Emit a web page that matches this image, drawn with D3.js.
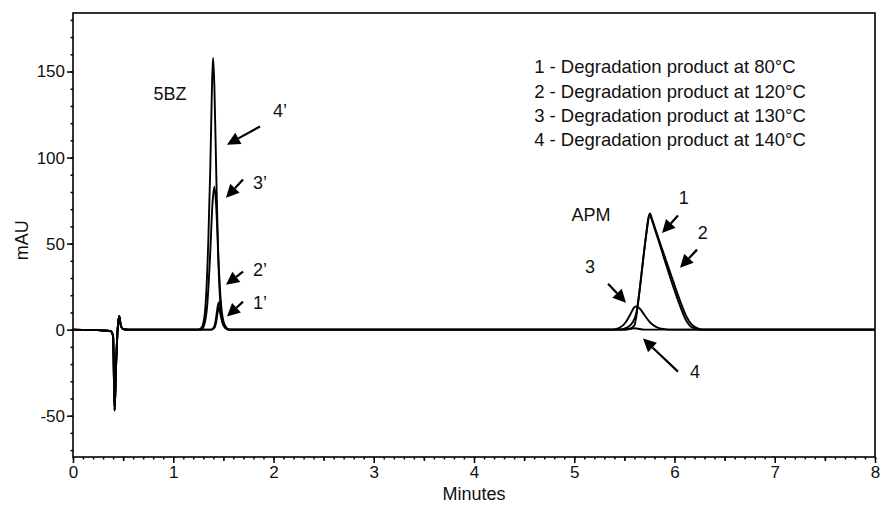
<!DOCTYPE html>
<html>
<head>
<meta charset="utf-8">
<style>
    body { margin: 0; background: #fff; }
    svg { font-family: 'Liberation Sans', Arial, Helvetica, sans-serif; }
    .axis .domain { display: none; }
    .axis line { stroke: #000; stroke-width: 1.5; }
    .axis text { font-size: 17px; fill: #111; }
    .trace { fill: none; stroke: #000; stroke-width: 1.9; stroke-linejoin: round; }
    .note { font-size: 18px; fill: #111; }
    .legend { font-size: 18.5px; fill: #111; }
    .axis-label { font-size: 18px; fill: #111; }
</style>
</head>
<body>
<svg width="881" height="506"></svg>

<script src="https://cdnjs.cloudflare.com/ajax/libs/d3/7.8.5/d3.min.js"></script>
<script>
    // [minutes, mAU]
    let injection = [[0, 0], [0.30, -0.5], [0.38, -1], [0.40, -4], [0.415, -47], [0.43, -20],
        [0.445, 0], [0.46, 8], [0.475, 3], [0.50, 0.3], [0.55, 0]];

    let bz80 = [[1.38, 0], [1.41, 1], [1.43, 5], [1.445, 11], [1.455, 13], [1.47, 9], [1.49, 4], [1.52, 1], [1.56, 0]];
    let bz120 = [[1.38, 0], [1.41, 2], [1.43, 8], [1.445, 14], [1.458, 16], [1.475, 11], [1.495, 5], [1.52, 1.5], [1.56, 0]];
    let bz130 = [[1.28, 0], [1.31, 3], [1.34, 15], [1.37, 46], [1.39, 72], [1.41, 83], [1.43, 70], [1.45, 42],
        [1.47, 20], [1.49, 8], [1.52, 2], [1.56, 0]];
    let bz140 = [[1.25, 0], [1.28, 1], [1.31, 7], [1.33, 22], [1.35, 52], [1.37, 95], [1.385, 138], [1.397, 158],
        [1.41, 142], [1.43, 88], [1.45, 40], [1.47, 15], [1.49, 5], [1.52, 1], [1.56, 0]];

    let apm80 = [[5.45, 0], [5.55, 0.5], [5.60, 2.5], [5.62, 8], [5.64, 17], [5.67, 32], [5.70, 47], [5.73, 60],
        [5.75, 67], [5.77, 64.5], [5.80, 59], [5.84, 52], [5.88, 44.5], [5.92, 37], [5.97, 28], [6.02, 19.5],
        [6.07, 11.5], [6.11, 6], [6.15, 2.5], [6.20, 0.7], [6.25, 0]];
    let apm120 = [[5.45, 0], [5.52, 1], [5.58, 4], [5.62, 10], [5.65, 22], [5.68, 37], [5.71, 52], [5.74, 65],
        [5.755, 67.5], [5.78, 63.5], [5.82, 56.5], [5.87, 48], [5.92, 39.5], [5.97, 31], [6.02, 22.5], [6.07, 14.5],
        [6.12, 7.5], [6.17, 3], [6.22, 1], [6.28, 0]];
    let apm130 = [[5.38, 0], [5.45, 1], [5.51, 4], [5.56, 9], [5.60, 13], [5.62, 13.5], [5.65, 12.5], [5.70, 8.5],
        [5.76, 4], [5.82, 1.5], [5.90, 0.3], [5.98, 0]];
    let apm140 = [[5.50, 0], [5.60, 0.8], [5.70, 0]];

    let runEnd = [[8, 0]];

    let legendLines = [
        "1 - Degradation product at 80°C",
        "2 - Degradation product at 120°C",
        "3 - Degradation product at 130°C",
        "4 - Degradation product at 140°C"];

    let xTicks = [0, 1, 2, 3, 4, 5, 6, 7, 8];
    let yTicks = [-50, 0, 50, 100, 150];

    // labels and arrows, in data units
    let notes = [
        { text: "5BZ", t: 0.968, v: 137 },
        { text: "4’", t: 2.065, v: 127, from: [1.865, 118], to: [1.536, 107.5] },
        { text: "3’", t: 1.865, v: 85.4, from: [1.696, 87.2], to: [1.526, 76.7] },
        { text: "2’", t: 1.865, v: 34.9, from: [1.696, 33.7], to: [1.526, 26.1] },
        { text: "1’", t: 1.865, v: 15.7, from: [1.696, 16.3], to: [1.536, 7.6] },
        { text: "APM", t: 5.167, v: 66.8 },
        { text: "1", t: 6.092, v: 76.7, from: [6.035, 66.3], to: [5.876, 56.1] },
        { text: "2", t: 6.282, v: 56.4, from: [6.225, 46.5], to: [6.055, 36.0] },
        { text: "3", t: 5.157, v: 36.6, from: [5.337, 26.7], to: [5.516, 15.7] },
        { text: "4", t: 6.204, v: -24.4, from: [6.035, -24.4], to: [5.686, -5.2] }
    ];

    let traces = [
        injection.concat(bz80, apm80, runEnd),
        injection.concat(bz120, apm120, runEnd),
        injection.concat(bz130, apm130, runEnd),
        injection.concat(bz140, apm140, runEnd)
    ];

    let svg = d3.select("svg");

    let x = d3.scaleLinear().domain([0, 8]).range([73, 875]);
    let y = d3.scaleLinear().domain([-74, 184]).range([457, 13]);

    // x ticks: minor every 0.1, half minutes, whole minutes
    svg.append("g").attr("class", "x axis")
        .attr("transform", `translate(0, ${y.range()[0]})`)
        .call(d3.axisBottom(x).tickValues(d3.range(0, 81).map(i => i / 10)).tickSize(2.5).tickFormat(""));
    svg.append("g").attr("class", "x axis")
        .attr("transform", `translate(0, ${y.range()[0]})`)
        .call(d3.axisBottom(x).tickValues(d3.range(0, 8).map(i => i + 0.5)).tickSize(4).tickFormat(""));
    svg.append("g").attr("class", "x axis")
        .attr("transform", `translate(0, ${y.range()[0]})`)
        .call(d3.axisBottom(x).tickValues(xTicks).tickSize(6).tickPadding(3).tickFormat(d => String(d)));

    svg.append("g").attr("class", "y axis")
        .attr("transform", `translate(${x.range()[0]}, 0)`)
        .call(d3.axisLeft(y).tickValues(d3.range(-70, 181, 10)).tickSize(2.5).tickFormat(""));
    svg.append("g").attr("class", "y axis")
        .attr("transform", `translate(${x.range()[0]}, 0)`)
        .call(d3.axisLeft(y).tickValues(yTicks).tickSize(6).tickPadding(2).tickFormat(d => String(d)));

    // frame
    svg.append("rect")
        .attr("x", x(0)).attr("y", y.range()[1])
        .attr("width", x(8) - x(0)).attr("height", y.range()[0] - y.range()[1])
        .attr("fill", "none").attr("stroke", "#000").attr("stroke-width", 1.6);

    let line = d3.line()
        .x(d => x(d[0]))
        .y(d => y(d[1]))
        .curve(d3.curveMonotoneX);

    svg.append("g")
        .selectAll("path")
        .data(traces)
        .join("path")
        .attr("class", "trace")
        .attr("d", line);

    // arrows
    let arrows = notes.filter(d => d.from);
    let ag = svg.append("g");
    arrows.forEach(d => {
        let x0 = x(d.from[0]), y0 = y(d.from[1]);
        let x1 = x(d.to[0]), y1 = y(d.to[1]);
        let ang = Math.atan2(y1 - y0, x1 - x0);
        let len = 13, half = 6.5;
        let bx = x1 - len * Math.cos(ang), by = y1 - len * Math.sin(ang);
        ag.append("line")
            .attr("x1", x0).attr("y1", y0).attr("x2", bx).attr("y2", by)
            .attr("stroke", "#000").attr("stroke-width", 2.2);
        ag.append("path")
            .attr("d", `M${x1},${y1}L${bx + half * Math.sin(ang)},${by - half * Math.cos(ang)}L${bx - half * Math.sin(ang)},${by + half * Math.cos(ang)}Z`)
            .attr("fill", "#000");
    });

    svg.append("g")
        .selectAll("text")
        .data(notes)
        .join("text")
        .attr("class", "note")
        .attr("x", d => x(d.t))
        .attr("y", d => y(d.v))
        .attr("text-anchor", "middle")
        .attr("dominant-baseline", "central")
        .text(d => d.text);

    svg.append("g")
        .selectAll("text")
        .data(legendLines)
        .join("text")
        .attr("class", "legend")
        .attr("x", x(4.6))
        .attr("y", (d, i) => y(152.8) + i * 24.4)
        .attr("dominant-baseline", "central")
        .text(d => d);

    svg.append("text")
        .attr("class", "axis-label")
        .attr("x", (x(0) + x(8)) / 2)
        .attr("y", 500)
        .attr("text-anchor", "middle")
        .text("Minutes");

    svg.append("text")
        .attr("class", "axis-label")
        .attr("transform", `translate(28, ${y(52)}) rotate(-90)`)
        .attr("text-anchor", "middle")
        .text("mAU");
</script>
</body>
</html>
